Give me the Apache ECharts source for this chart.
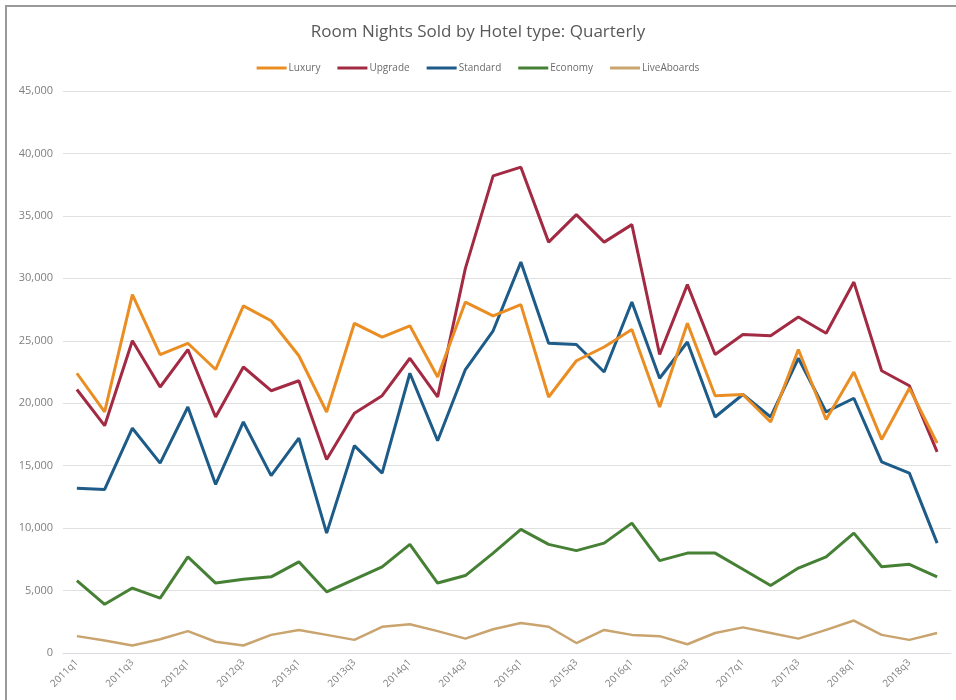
<!DOCTYPE html>
<html>
<head>
<meta charset="utf-8">
<script src="https://cdn.jsdelivr.net/npm/echarts@6/dist/echarts.min.js"></script>
<style>
  html, body { margin: 0; padding: 0; background: #fff; }
  #chart { width: 956px; height: 700px; }
</style>
</head>
<body>
<div id="chart"></div>
<script>
  // quarters 2011q1 .. 2018q4
  const quarters = []
  for (let y = 2011; y <= 2018; y++) {
    for (let q = 1; q <= 4; q++) quarters.push(y + 'q' + q)
  }

  const luxury = [22400, 19300, 28700, 23900, 24800, 22700, 27800, 26600, 23800, 19300,
    26400, 25300, 26200, 22100, 28100, 27000, 27900, 20500, 23400, 24500,
    25900, 19700, 26400, 20600, 20700, 18500, 24300, 18700, 22500, 17100, 21200, 16800]
  const upgrade = [21100, 18200, 25000, 21300, 24300, 18900, 22900, 21000, 21800, 15500,
    19200, 20600, 23600, 20500, 30800, 38200, 38900, 32900, 35100, 32900,
    34300, 23900, 29500, 23900, 25500, 25400, 26900, 25600, 29700, 22600, 21400, 16100]
  const standard = [13200, 13100, 18000, 15200, 19700, 13500, 18500, 14200, 17200, 9600,
    16600, 14400, 22400, 17000, 22700, 25800, 31300, 24800, 24700, 22500,
    28100, 22000, 24900, 18900, 20700, 18900, 23600, 19300, 20400, 15300, 14400, 8800]
  const economy = [5800, 3900, 5200, 4400, 7700, 5600, 5900, 6100, 7300, 4900,
    5900, 6900, 8700, 5600, 6200, 8000, 9900, 8700, 8200, 8800,
    10400, 7400, 8000, 8000, 6700, 5400, 6800, 7700, 9600, 6900, 7100, 6100]
  const liveAboards = [1350, 1000, 600, 1100, 1750, 900, 600, 1450, 1850, 1450,
    1050, 2100, 2300, 1750, 1150, 1900, 2400, 2100, 800, 1850,
    1450, 1350, 700, 1600, 2050, 1600, 1150, 1850, 2600, 1450, 1050, 1600]

  const seriesNames = ['Luxury', 'Upgrade', 'Standard', 'Economy', 'LiveAboards']
  const seriesData = [luxury, upgrade, standard, economy, liveAboards]
  const colors = ['#EA8E23', '#A22A43', '#1D5B88', '#458035', '#C9A46E']

  const myChart = echarts.init(document.getElementById('chart'))

  const options = {
    backgroundColor: '#fff',
    color: colors,
    textStyle: { fontFamily: 'Open Sans' },
    title: {
      text: 'Room Nights Sold by Hotel type: Quarterly',
      left: 'center',
      top: 19,
      textStyle: { color: '#595959', fontSize: 17, fontWeight: 'normal' }
    },
    legend: {
      top: 58,
      left: 'center',
      icon: 'rect',
      itemWidth: 30,
      itemHeight: 3,
      itemGap: 17,
      textStyle: { color: '#6b6b6b', fontSize: 10, padding: [0, 0, 0, -3] },
      data: seriesNames
    },
    grid: { left: 63, right: 5, top: 91, bottom: 47 },
    xAxis: {
      type: 'category',
      data: quarters,
      boundaryGap: true,
      axisLine: { lineStyle: { color: '#d9dde3', width: 1 } },
      axisTick: { show: false },
      axisLabel: {
        interval: 1,
        rotate: 45,
        color: '#7f7f7f',
        fontSize: 10,
        margin: 8
      }
    },
    yAxis: {
      type: 'value',
      min: 0,
      max: 45000,
      interval: 5000,
      axisLine: { show: false },
      axisTick: { show: false },
      splitLine: { lineStyle: { color: '#e0e0e0', width: 1 } },
      axisLabel: {
        color: '#7f7f7f',
        fontSize: 11,
        margin: 10,
        formatter: v => v.toLocaleString('en-US')
      }
    },
    graphic: [{
      type: 'rect',
      shape: { x: 6, y: 6, width: 1000, height: 800 },
      style: { fill: 'none', stroke: '#9a9a9a', lineWidth: 2 },
      silent: true
    }],
    series: seriesNames.map((name, i) => ({
      name: name,
      type: 'line',
      data: seriesData[i],
      symbol: 'none',
      lineStyle: { width: i === 4 ? 2.5 : 3 },
      z: 10 - i
    }))
  }

  myChart.setOption(options)
</script>
</body>
</html>
